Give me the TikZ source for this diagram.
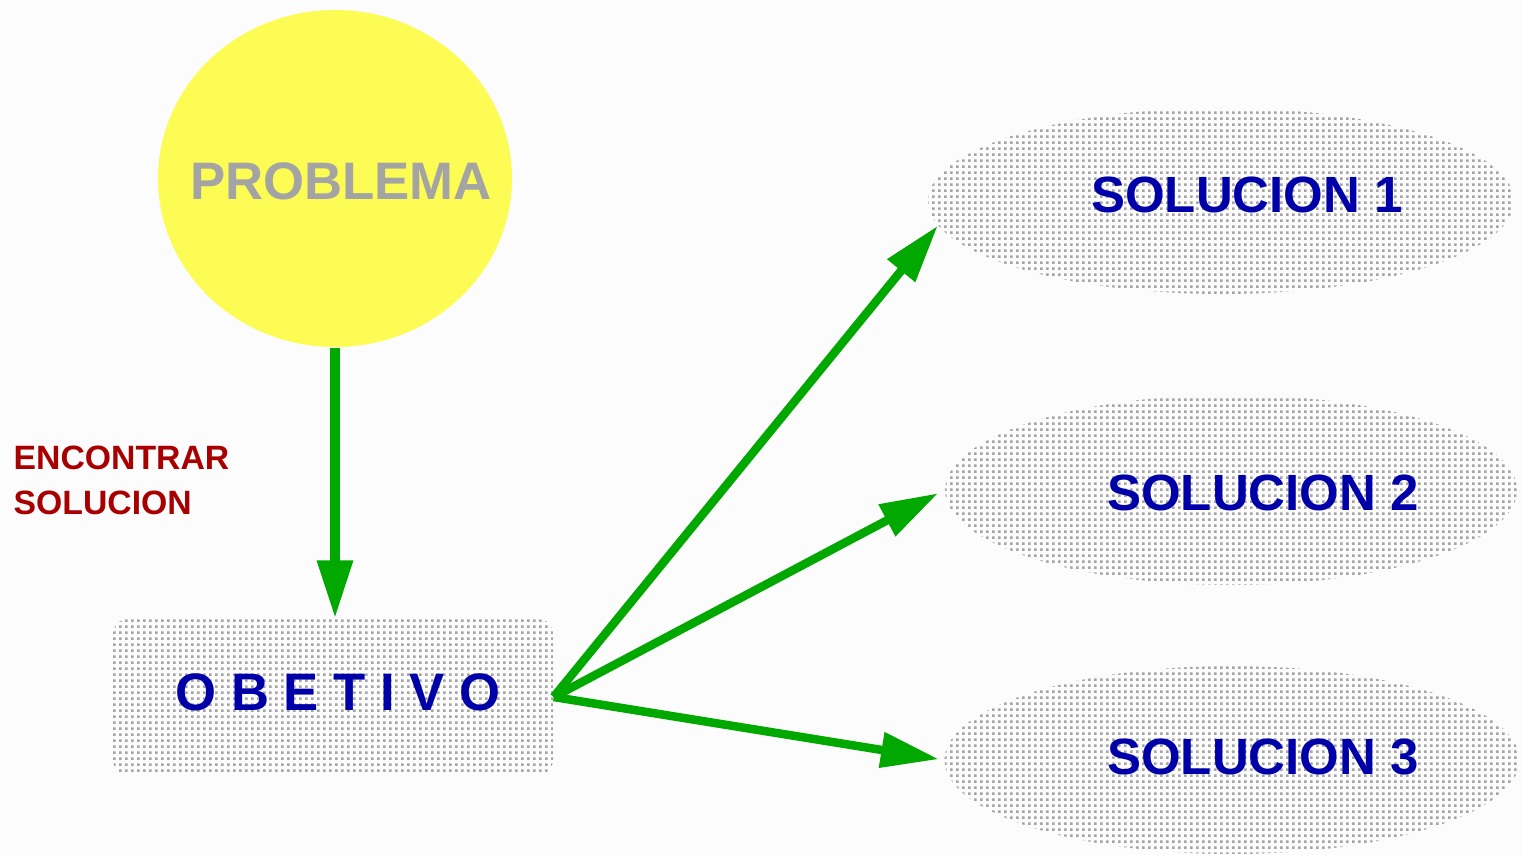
\documentclass[tikz,border=0pt]{standalone}
\usepackage{fontspec}
\setmainfont{Liberation Sans}
\usetikzlibrary{arrows.meta, positioning, shapes.geometric, patterns}

\definecolor{sunyellow}{RGB}{252,252,84}
\definecolor{flowgreen}{RGB}{0,168,0}
\definecolor{inkblue}{RGB}{0,0,168}
\definecolor{inkred}{RGB}{168,0,0}
\definecolor{dotgray}{RGB}{164,164,164}
\definecolor{paper}{RGB}{252,252,252}

% fine square dot raster, used as a fill
\pgfdeclarepatternformonly{raster}{\pgfpointorigin}{\pgfpoint{1.7pt}{1.7pt}}{\pgfpoint{1.7pt}{1.7pt}}{%
  \pgfpathrectangle{\pgfpointorigin}{\pgfpoint{0.78pt}{0.78pt}}%
  \pgfusepath{fill}}

\begin{document}
\begin{tikzpicture}[
    flow/.style={-{Triangle[length=5.8mm, width=3.4mm]}, flowgreen, line width=0.85mm},
    shaded/.style={pattern=raster, pattern color=dotgray},
    sol/.style={ellipse, shaded, inner sep=0pt},
    soltext/.style={inkblue, font=\fontsize{14.5}{17}\selectfont\bfseries}
]

    % === Page ===
    \fill[paper] (0,0) rectangle (15.22,8.55);

    % === Problem and objective ===
    \node[ellipse, fill=sunyellow, minimum width=3.54cm, minimum height=3.37cm, inner sep=0pt,
          label={[text=dotgray, font=\fontsize{15}{18}\selectfont\bfseries, xshift=0.6mm, yshift=-0.3mm]center:PROBLEMA}]
          (prob) at (3.35,6.765) {};

    \node[shaded, rounded corners=0.15cm, minimum width=4.40cm, minimum height=1.56cm, inner sep=0pt,
          label={[text=inkblue, font=\fontsize{15}{18}\selectfont\bfseries, xshift=0.5mm, yshift=0.5mm]center:O B E T I V O}]
          (obj) at (3.33,1.58) {};

    \node[inkred, anchor=north west, align=left, inner sep=0pt,
          font=\fontsize{9.6}{12.8}\selectfont\bfseries] (task) at (0.13,4.10) {ENCONTRAR\\SOLUCION};

    % === Solutions ===
    \node[sol, minimum width=5.86cm, minimum height=1.86cm,
          label={[soltext, xshift=2.6mm, yshift=0.6mm]center:SOLUCION 1}] (sol1) at (12.21,6.54) {};
    \node[sol, minimum width=5.72cm, minimum height=1.90cm,
          label={[soltext, xshift=3.2mm, yshift=-0.3mm]center:SOLUCION 2}] (sol2) at (12.31,3.65) {};
    \node[sol, minimum width=5.75cm, minimum height=1.88cm,
          label={[soltext, xshift=3.1mm, yshift=0.3mm]center:SOLUCION 3}] (sol3) at (12.32,0.95) {};

    % === Arrows ===
    \draw[flow, line width=0.95mm] (prob.south) -- (prob.south |- obj.north);
    \draw[flow] (obj.east) -- (sol1.185);
    \draw[flow, shorten >=0.7mm] (obj.east) -- (sol2.west);
    \draw[flow, shorten >=0.5mm] (obj.east) -- (sol3.west);

\end{tikzpicture}
\end{document}
